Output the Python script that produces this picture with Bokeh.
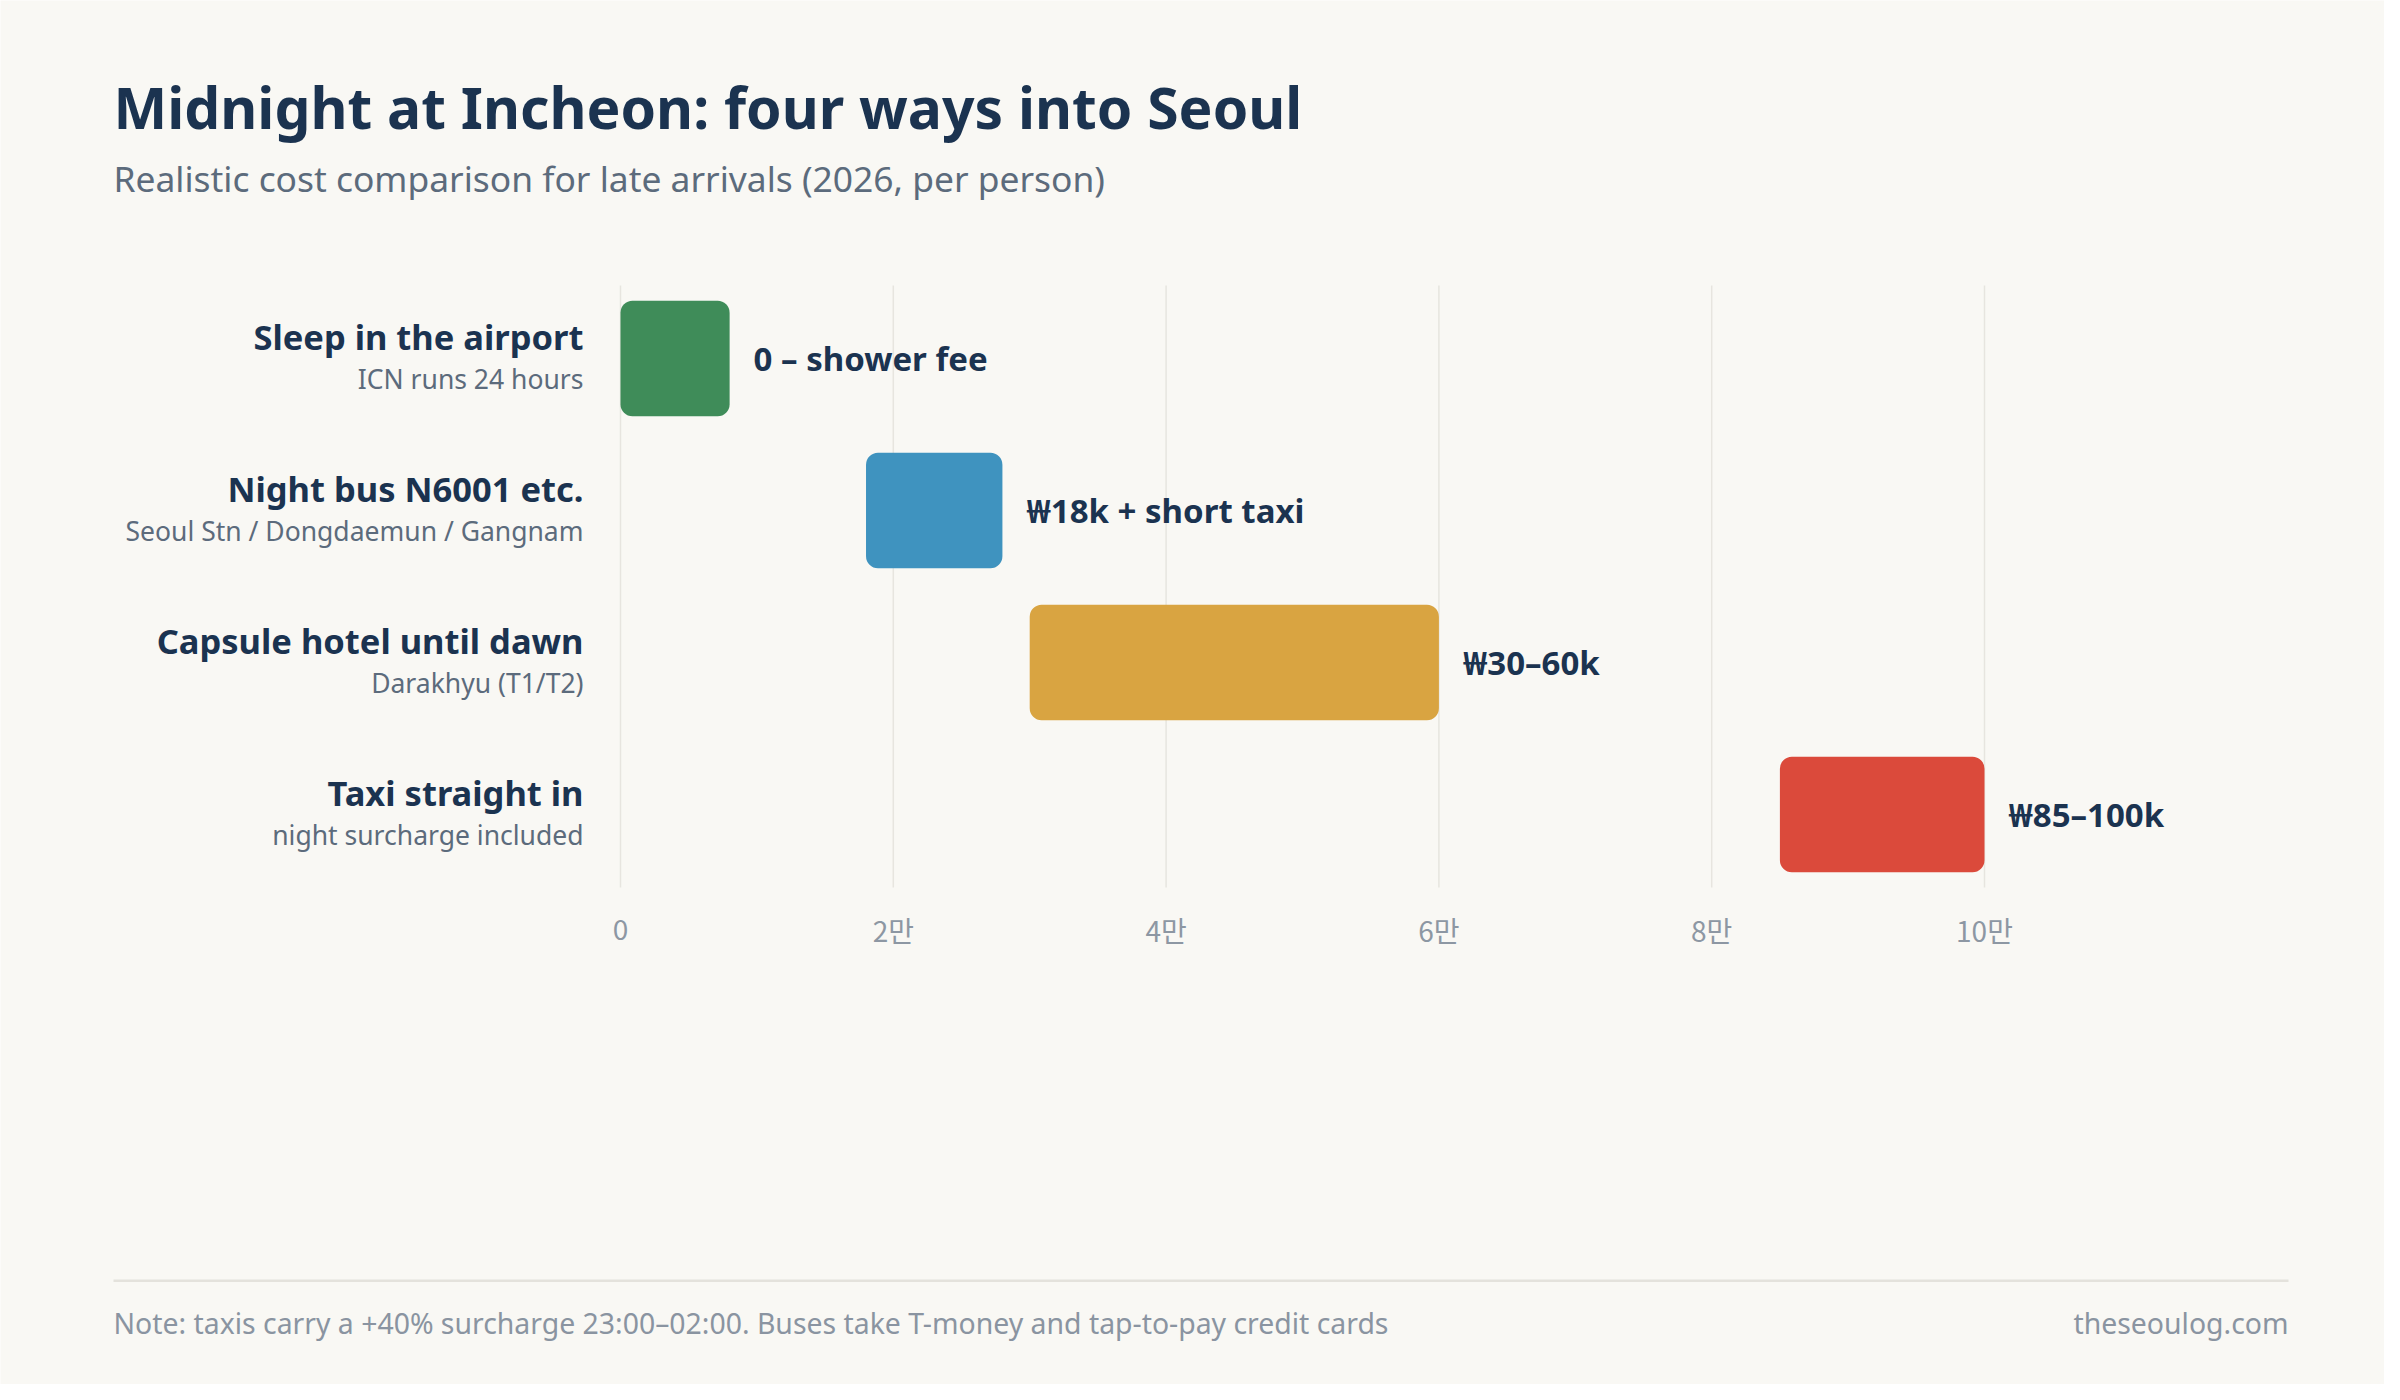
from bokeh.plotting import figure
from bokeh.models import Range1d, Label, BoxAnnotation, ColumnDataSource
from bokeh.core.properties import value
from bokeh.embed import file_html
from bokeh.resources import INLINE

# data
options = ["Sleep in the airport", "Night bus N6001 etc.", "Capsule hotel until dawn", "Taxi straight in"]
notes = ["ICN runs 24 hours", "Seoul Stn / Dongdaemun / Gangnam", "Darakhyu (T1/T2)", "night surcharge included"]
cost_low = [0, 18000, 30000, 85000]
cost_high = [8000, 28000, 60000, 100000]
cost_text = ["0 \u2013 shower fee", "\u20a918k + short taxi", "\u20a930\u201360k", "\u20a985\u2013100k"]
colors = ["#3f8c59", "#3f93bf", "#d9a441", "#db4a3b"]
ticks = [0, 20000, 40000, 60000, 80000, 100000]
tick_labels = ["0", "2만", "4만", "6만", "8만", "10만"]

NAVY = "#1b3350"
GREY = "#5c6b7c"
LIGHT = "#8a94a1"
BG = "#f9f8f4"
FONT = "Noto Sans"

W, H = 2384, 1384
X0, PX_PER_WON = 620, 1364 / 100000   # where 0 sits, pixels per won
Y0, ROW = 282, 152                    # top of first row, row pitch (px)


def ry(py):
    # canvas pixel row -> row units of the y scale
    return (py - Y0) / ROW


rows = [i + 0.5 for i in range(len(options))]
src = ColumnDataSource(dict(row=rows, option=options, note=notes, low=cost_low,
                            high=cost_high, label=cost_text, color=colors))

p = figure(width=W, height=H, output_backend="svg", toolbar_location=None,
           x_range=Range1d(-X0 / PX_PER_WON, (W - X0) / PX_PER_WON),
           y_range=Range1d(ry(H), ry(0)),
           x_axis_location=None, y_axis_location=None, min_border=0,
           background_fill_color=BG, border_fill_color=BG, outline_line_color=None)
p.grid.visible = False

# vertical grid at the ticks, only across the rows
p.segment(x0=ticks, x1=ticks, y0=[ry(285)] * len(ticks), y1=[ry(887)] * len(ticks),
          line_color="#e7e5df", line_width=1.5)
p.text(x=ticks, y=[ry(929)] * len(ticks), text=tick_labels, text_align="center",
       text_baseline="middle", text_font=value("Noto Sans CJK KR"),
       text_font_size="28px", text_color="#8d97a3")

p.hbar(y="row", left="low", right="high", height=0.76, color="color",
       line_color=None, border_radius=12, source=src)
p.text(x="high", y="row", text="label", source=src, x_offset=24,
       text_baseline="middle", text_font=value(FONT), text_font_style="bold",
       text_font_size="33px", text_color=NAVY)

# row labels, right-aligned just left of the zero line
p.text(x=0, y="row", text="option", source=src, x_offset=-37, y_offset=-22,
       text_align="right", text_baseline="alphabetic", text_font=value(FONT),
       text_font_style="bold", text_font_size="34.5px", text_color=NAVY)
p.text(x=0, y="row", text="note", source=src, x_offset=-37, y_offset=20,
       text_align="right", text_baseline="alphabetic", text_font=value(FONT),
       text_font_size="26.5px", text_color=GREY)

# titles
p.add_layout(Label(x=113, x_units="screen", y=ry(106), text_baseline="alphabetic",
                   text="Midnight at Incheon: four ways into Seoul", text_font=FONT,
                   text_font_style="bold", text_font_size="57px", text_color=NAVY))
p.add_layout(Label(x=113, x_units="screen", y=ry(177), text_baseline="alphabetic",
                   text="Realistic cost comparison for late arrivals (2026, per person)",
                   text_font=FONT, text_font_size="35.4px", text_color=GREY))

# footer
p.add_layout(BoxAnnotation(left=113, right=2288, left_units="screen", right_units="screen",
                           top=ry(1279), bottom=ry(1281.5),
                           fill_color="#e4e2dc", fill_alpha=1, line_color=None))
p.add_layout(Label(x=113, x_units="screen", y=ry(1322),
                   text="Note: taxis carry a +40% surcharge 23:00\u201302:00. Buses take T-money and tap-to-pay credit cards",
                   text_baseline="middle", text_font=FONT, text_font_size="28.4px",
                   text_color=LIGHT))
p.add_layout(Label(x=2288, x_units="screen", y=ry(1322),
                   text="theseoulog.com", text_align="right", text_baseline="middle",
                   text_font=FONT, text_font_size="28.4px", text_color=LIGHT))

open("out.html", "w").write(file_html(p, INLINE))
